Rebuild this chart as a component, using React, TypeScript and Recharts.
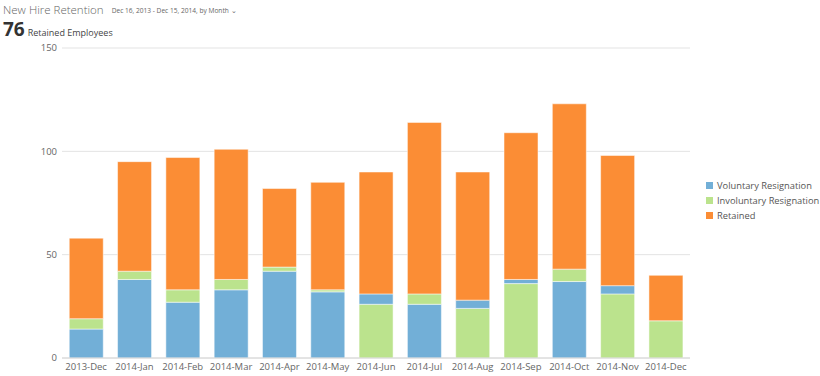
import { BarChart, Bar, XAxis, YAxis, CartesianGrid } from "recharts";

const MONTHS = [
  "2013-Dec", "2014-Jan", "2014-Feb", "2014-Mar", "2014-Apr", "2014-May", "2014-Jun",
  "2014-Jul", "2014-Aug", "2014-Sep", "2014-Oct", "2014-Nov", "2014-Dec",
];
const VOLUNTARY = [14, 38, 27, 33, 42, 32, 5, 26, 4, 2, 37, 4, 0];
const INVOLUNTARY = [5, 4, 6, 5, 2, 1, 26, 5, 24, 36, 6, 31, 18];
const RETAINED = [39, 53, 64, 63, 38, 52, 59, 83, 62, 71, 80, 63, 22];
const Y_TICKS = [0, 50, 100, 150];

const BLUE = "#72AFD7";
const GREEN = "#BBE38D";
const ORANGE = "#FB8D35";

const LEGEND = [
  { name: "Voluntary Resignation", color: BLUE },
  { name: "Involuntary Resignation", color: GREEN },
  { name: "Retained", color: ORANGE },
];

// the larger of the two resignation values sits at the bottom of each stack
const data = MONTHS.map((month, i) => {
  const v = VOLUNTARY[i];
  const inv = INVOLUNTARY[i];
  return {
    month,
    volBottom: v >= inv ? v : 0,
    involuntary: inv,
    volTop: v < inv ? v : 0,
    retained: RETAINED[i],
  };
});

const FONT = "'Open Sans', sans-serif";

export default function App() {
  const barProps = {
    stackId: "a",
    stroke: "rgba(255,255,255,0.5)",
    strokeWidth: 1,
    isAnimationActive: false,
  };
  return (
    <div style={{ position: "absolute", left: 0, top: 0, width: 820, height: 376, background: "#fff", fontFamily: FONT }}>
      <div style={{ position: "absolute", left: 0, top: 0 }}>
        <BarChart
          width={820}
          height={376}
          data={data}
          margin={{ top: 48, right: 130, bottom: 0, left: 0 }}
          barCategoryGap="15%"
        >
          <CartesianGrid vertical={false} stroke="#e3e3e3" />
          <XAxis
            dataKey="month"
            height={18}
            tickLine={false}
            tickSize={0}
            tickMargin={5}
            axisLine={{ stroke: "#d6d6d6" }}
            interval={0}
            tick={{ fontSize: 9.5, fill: "#666", fontFamily: FONT }}
          />
          <YAxis
            width={62}
            domain={[0, 150]}
            ticks={Y_TICKS}
            axisLine={false}
            tickLine={false}
            tickSize={0}
            tickMargin={5}
            tick={{ fontSize: 9.5, fill: "#666", fontFamily: FONT }}
          />
          <Bar dataKey="volBottom" fill={BLUE} {...barProps} />
          <Bar dataKey="involuntary" fill={GREEN} {...barProps} />
          <Bar dataKey="volTop" fill={BLUE} {...barProps} />
          <Bar dataKey="retained" fill={ORANGE} {...barProps} />
        </BarChart>
      </div>
      <div style={{ position: "absolute", left: 3, top: 1, lineHeight: "15px", whiteSpace: "nowrap", color: "#666" }}>
        <span style={{ fontSize: 11.5, fontWeight: 300 }}>New Hire Retention</span>
        <span style={{ fontSize: 6.6, marginLeft: 8, color: "#666", verticalAlign: 1 }}>Dec 16, 2013 - Dec 15, 2014, by Month ⌄</span>
      </div>
      <div style={{ position: "absolute", left: 3, top: 19, lineHeight: "20px", whiteSpace: "nowrap", color: "#333" }}>
        <span style={{ fontSize: 19, fontWeight: 700 }}>76</span>
        <span style={{ fontSize: 9, marginLeft: 3, color: "#444" }}>Retained Employees</span>
      </div>
      <div style={{ position: "absolute", left: 706, top: 178, whiteSpace: "nowrap", fontFamily: FONT, fontSize: 9.3, color: "#555" }}>
        {LEGEND.map((item) => (
          <div key={item.name} style={{ display: "flex", alignItems: "center", height: 15 }}>
            <div style={{ width: 7, height: 7, background: item.color, marginRight: 4 }} />
            <span>{item.name}</span>
          </div>
        ))}
      </div>
    </div>
  );
}
